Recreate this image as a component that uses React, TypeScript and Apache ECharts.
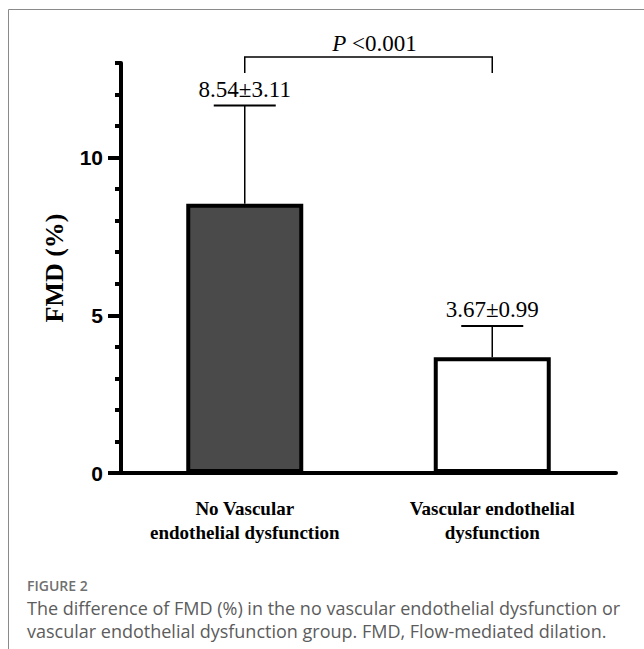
import React, { useEffect, useRef } from "react";
import * as echarts from "echarts";

const categories = ["No Vascular\nendothelial dysfunction", "Vascular endothelial\ndysfunction"];
const means = [8.54, 3.67];
const sds = [3.11, 0.99];
const barColors = ["#4a4a4a", "#ffffff"];
const majorTicks = [0, 5, 10];
const yMax = 13;
const pLabel = "<0.001";
const bracketTop = 13.19;
const bracketLeg = 12.68;
const figureLabel = "FIGURE 2";
const captionLines = [
  "The difference of FMD (%) in the no vascular endothelial dysfunction or",
  "vascular endothelial dysfunction group. FMD, Flow-mediated dilation.",
];

export default function App() {
  const ref = useRef<HTMLDivElement>(null);
  useEffect(() => {
    const chart = echarts.init(ref.current!, null, { renderer: "svg" });
    const serif = "'Liberation Serif', 'Times New Roman', serif";
    const sans = "'Liberation Sans', Arial, sans-serif";
    const option: any = {
      animation: false,
      backgroundColor: "#fff",
      grid: { left: 121, right: 28, top: 63, bottom: 176 },
      xAxis: {
        type: "category",
        data: categories,
        axisLine: { show: true, lineStyle: { color: "#000", width: 4 } },
        axisTick: { show: false },
        axisLabel: {
          color: "#000",
          fontFamily: serif,
          fontWeight: "bold",
          fontSize: 19,
          lineHeight: 24,
          margin: 23,
        },
      },
      yAxis: [
        {
          type: "value",
          min: 0,
          max: yMax,
          interval: 1,
          name: "FMD (%)",
          nameLocation: "middle",
          nameRotate: 90,
          nameGap: 54,
          nameTextStyle: { color: "#000", fontFamily: serif, fontWeight: "bold", fontSize: 26 },
          axisLine: { show: true, lineStyle: { color: "#000", width: 4 } },
          axisTick: { show: true, length: 6, lineStyle: { color: "#000", width: 4 } },
          axisLabel: { show: false },
          splitLine: { show: false },
        },
        {
          type: "value",
          min: 0,
          max: yMax,
          position: "left",
          axisLine: { show: false },
          axisTick: { show: true, length: 13, customValues: majorTicks, lineStyle: { color: "#000", width: 4 } },
          axisLabel: {
            show: true,
            customValues: majorTicks,
            color: "#000",
            fontFamily: sans,
            fontWeight: "bold",
            fontSize: 21,
            margin: 18,
          },
          splitLine: { show: false },
        },
      ],
      series: [
        {
          type: "bar",
          barWidth: 117,
          data: means.map((m, i) => ({
            value: m,
            itemStyle: { color: barColors[i], borderColor: "#000", borderWidth: 4 },
          })),
          z: 2,
        },
        {
          type: "custom",
          z: 3,
          data: means.map((m, i) => [i, m, m + sds[i], sds[i]]),
          renderItem: (params: any, api: any) => {
            const i = api.value(0);
            const lo = api.coord([i, api.value(1)]);
            const hi = api.coord([i, api.value(2)]);
            const label = means[params.dataIndex].toFixed(2) + "±" + sds[params.dataIndex].toFixed(2);
            return {
              type: "group",
              children: [
                { type: "line", shape: { x1: lo[0], y1: lo[1], x2: hi[0], y2: hi[1] }, style: { stroke: "#000", lineWidth: 1.5 } },
                { type: "line", shape: { x1: hi[0] - 31, y1: hi[1], x2: hi[0] + 31, y2: hi[1] }, style: { stroke: "#000", lineWidth: 2 } },
                {
                  type: "text",
                  x: hi[0],
                  y: hi[1] - 5,
                  style: { text: label, fill: "#000", font: "23px " + serif, textAlign: "center", textVerticalAlign: "bottom" },
                },
              ],
            };
          },
        },
        {
          type: "custom",
          z: 3,
          clip: false,
          data: [[0, 1, bracketTop, bracketLeg]],
          renderItem: (params: any, api: any) => {
            const a0 = api.coord([api.value(0), api.value(3)]);
            const a1 = api.coord([api.value(0), api.value(2)]);
            const b1 = api.coord([api.value(1), api.value(2)]);
            const b0 = api.coord([api.value(1), api.value(3)]);
            return {
              type: "group",
              children: [
                {
                  type: "polyline",
                  shape: { points: [a0, a1, b1, b0] },
                  style: { stroke: "#000", lineWidth: 1.5, fill: "none" },
                },
                {
                  type: "text",
                  x: (a1[0] + b1[0]) / 2 + 6,
                  y: a1[1] - 2,
                  style: {
                    text: "{i|P} " + pLabel,
                    fill: "#000",
                    font: "23px " + serif,
                    textAlign: "center",
                    textVerticalAlign: "bottom",
                    rich: { i: { fontStyle: "italic", font: "italic 23px " + serif, fill: "#000" } },
                  },
                },
              ],
            };
          },
        },
      ],
      graphic: [
        { type: "line", shape: { x1: 8.5, y1: 9.5, x2: 8.5, y2: 649 }, style: { stroke: "#8a8a8a", lineWidth: 1 } },
        { type: "line", shape: { x1: 8.5, y1: 9.5, x2: 644, y2: 9.5 }, style: { stroke: "#8a8a8a", lineWidth: 1 } },
        {
          type: "text",
          left: 27,
          top: 578,
          style: { text: figureLabel, fill: "#707070", font: "600 14px 'Open Sans', sans-serif" },
        },
        {
          type: "text",
          left: 27,
          top: 596,
          style: {
            text: captionLines.join("\n"),
            fill: "#5c5c5c",
            font: "18px 'Open Sans', sans-serif",
            lineHeight: 23,
          },
        },
      ],
    };
    chart.setOption(option);
    return () => chart.dispose();
  }, []);
  return <div ref={ref} style={{ position: "fixed", left: 0, top: 0, width: 644, height: 649 }} />;
}
